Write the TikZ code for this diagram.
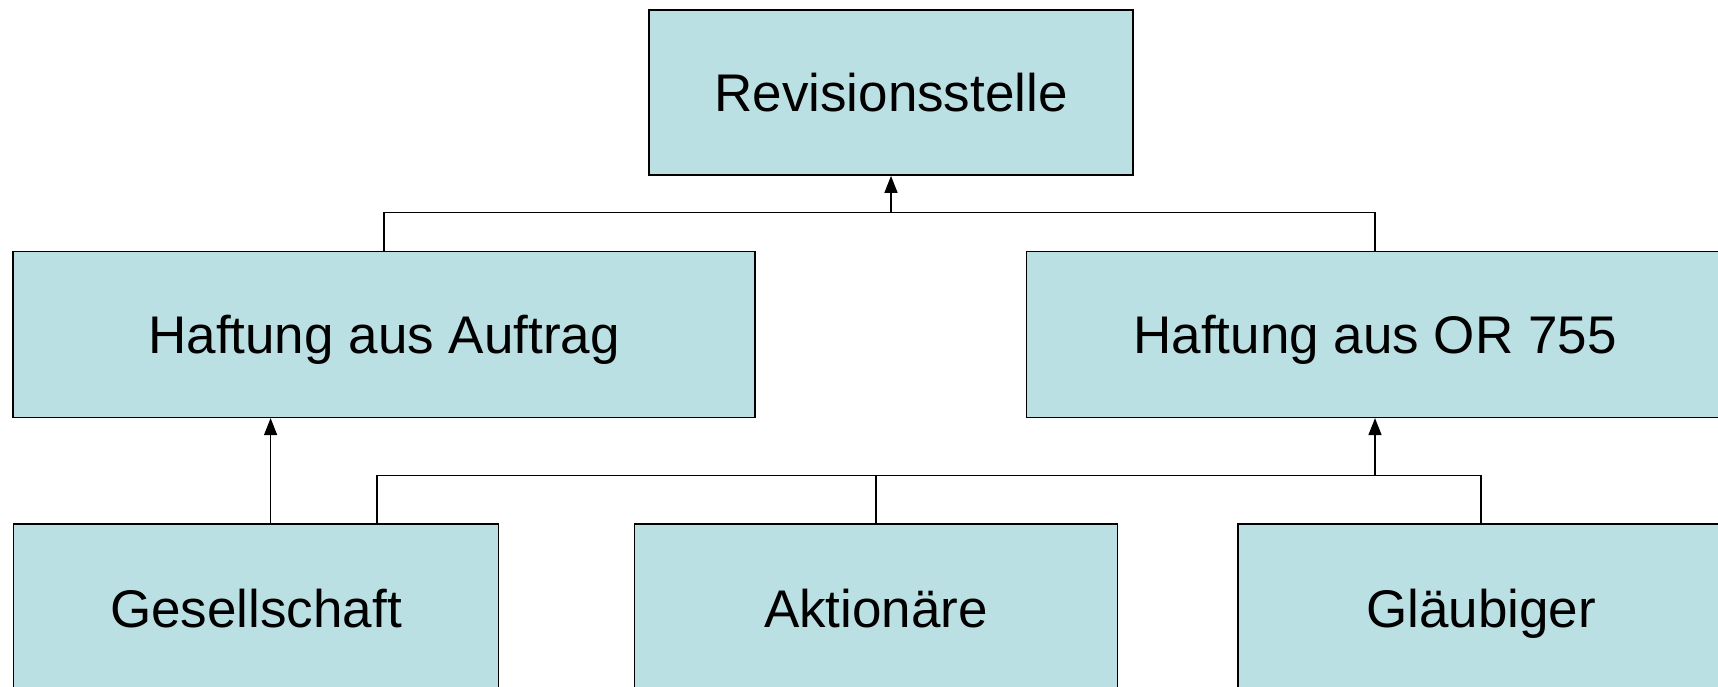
\documentclass[tikz,border=0pt]{standalone}
\usepackage{fontspec}
\setmainfont{Liberation Sans}
\usetikzlibrary{arrows.meta}
\definecolor{boxfill}{RGB}{187,224,227}
\tikzset{
  box/.style={draw=black, fill=boxfill, line width=1.6pt, inner sep=0pt,
    text height=38pt, text depth=0pt,
    font=\fontsize{53}{60}\selectfont, text=black},
  conn/.style={draw=black, line width=1.5pt},
  arr/.style={conn, -{Triangle[length=17pt,width=13pt]}}
}
\begin{document}
\begin{tikzpicture}[x=1pt,y=-1pt]
\clip (0,0) rectangle (1718,687);
\fill[white] (0,0) rectangle (1718,687);
\node[box, minimum width=484pt, minimum height=165pt] (rev) at (891,92.6) {Revisionsstelle};
\node[box, minimum width=742pt, minimum height=166pt] (auf) at (384,334.3) {Haftung aus Auftrag};
\node[box, minimum width=697pt, minimum height=166pt] (or) at (1375,334.3) {Haftung aus OR 755};
\node[box, minimum width=485pt, minimum height=168pt] (ges) at (256,608) {Gesellschaft};
\node[box, minimum width=483pt, minimum height=168pt] (akt) at (876,608) {Aktionäre};
\node[box, minimum width=486pt, minimum height=168pt] (glb) at (1481,608) {Gläubiger};
\coordinate (top) at (891,212.6);
\coordinate (bus) at (1375,475.5);
\coordinate (g1) at (270.6,523.7);
\coordinate (g2) at (376.9,523.7);
\draw[conn] (auf.north) -- (auf.north |- top) -- (or.north |- top) -- (or.north);
\draw[arr] (top) -- (rev.south);
\draw[arr] (g1) -- (g1 |- auf.south);
\draw[conn] (g2) -- (g2 |- bus) -- (glb.north |- bus) -- (glb.north);
\draw[conn] (akt.north) -- (akt.north |- bus);
\draw[arr] (bus) -- (or.south);
\end{tikzpicture}
\end{document}
